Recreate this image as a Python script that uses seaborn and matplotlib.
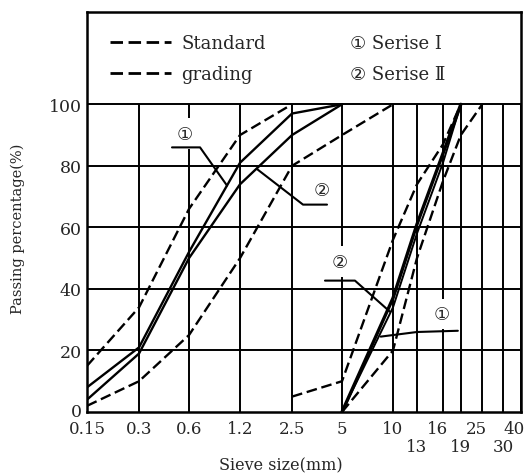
import numpy as np
import pandas as pd
import matplotlib
matplotlib.use("Agg")
import matplotlib.pyplot as plt
import matplotlib.transforms as mtransforms
from matplotlib.lines import Line2D
import seaborn as sns

# ---------------- data ----------------
sieve_sizes = [0.15, 0.3, 0.6, 1.2, 2.5, 5, 10, 13, 16, 19, 25, 30, 40]
sieve_positions = [0, 1.02, 2.0, 3.0, 4.02, 5.0, 6.0, 6.47, 6.98, 7.33, 7.75, 8.16, 8.51]
top_row_ticks = [0.15, 0.3, 0.6, 1.2, 2.5, 5, 10, 16, 25, 40]
top_row_labels = ["0.15", "0.3", "0.6", "1.2", "2.5", "5", "10", "16", "25", "40"]
second_row_ticks = [13, 19, 30]
second_row_labels = ["13", "19", "30"]
y_ticks = [0, 20, 40, 60, 80, 100]

# fine aggregate
fine_sizes = [0.15, 0.3, 0.6, 1.2, 2.5, 5]
fine_series1 = [8, 21, 52, 81, 97, 100]
fine_series2 = [4, 19, 50, 74, 90, 100]
fine_upper_sizes = [0.15, 0.3, 0.6, 1.2, 2.5]
fine_upper = [15, 34, 66, 90, 100]
fine_lower_sizes = [0.15, 0.3, 0.6, 1.2, 2.5, 5, 10]
fine_lower = [2, 10, 25, 50, 80, 90, 100]

# coarse aggregate
coarse_sizes = [5, 10, 13, 16, 19]
coarse_series1 = [0, 37, 61, 84, 100]
coarse_series2 = [0, 34, 58, 81, 100]
coarse_upper_sizes = [2.5, 5, 10, 13, 16, 19]
coarse_upper = [5, 10, 56, 74, 87, 100]
coarse_lower_sizes = [5, 10, 13, 16, 19, 25]
coarse_lower = [0, 20, 50, 75, 90, 100]

legend_labels = ["Standard", "grading", "\u2460 Serise \u2160", "\u2461 Serise \u2161"]

# ---------------- style ----------------
sns.set_style("white")
plt.rcParams["font.family"] = ["DejaVu Serif", "DejaVu Sans", "Noto Sans CJK SC"]

fig = plt.figure(figsize=(5.27, 4.77), dpi=100)
ax = fig.add_axes([87 / 527, (477 - 413) / 477, 434 / 527, 400 / 477])


def forward(x):
    return np.interp(x, sieve_sizes, sieve_positions)


def inverse(p):
    return np.interp(p, sieve_positions, sieve_sizes)


ax.set_xscale("function", functions=(forward, inverse))
ax.set_xlim(0.15, 40)
ax.set_ylim(0, 130)

# grid
ax.hlines(y_ticks[1:], 0.15, 40, color="black", lw=1.4, zorder=1)
ax.vlines(sieve_sizes, 0, 100, color="black", lw=1.4, zorder=1)

dash = (0, (4.5, 2))
lw = 1.7
curves = [
    (fine_sizes, fine_series1, "-", lw),
    (fine_sizes, fine_series2, "-", lw),
    (fine_upper_sizes, fine_upper, dash, lw),
    (fine_lower_sizes, fine_lower, dash, lw),
    (coarse_sizes, coarse_series1, "-", 2.4),
    (coarse_sizes, coarse_series2, "-", 1.4),
    (coarse_upper_sizes, coarse_upper, dash, lw),
    (coarse_lower_sizes, coarse_lower, dash, lw),
]
for xs, ys, ls, w in curves:
    sns.lineplot(x=xs, y=ys, ax=ax, color="black", linestyle=ls, linewidth=w,
                 sort=False, estimator=None, zorder=2)

# series labels with leaders
labels = [
    ("\u2460", 0.575, 90.5, [(0.498, 86), (0.73, 86), (1.047, 73.6)]),
    ("\u2461", 4.0, 72.3, [(1.62, 79), (3.05, 67.4), (4.25, 67.4)]),
    ("\u2461", 4.9, 48.9, [(4.15, 42.7), (6.27, 42.7), (9.7, 32.6)]),
    ("\u2460", 15.9, 31.9, [(8.8, 24.5), (13, 26), (18.5, 26.4)]),
]
for txt, tx, ty, pts in labels:
    ax.text(tx, ty, txt, ha="center", va="center", fontsize=13,
            family=["DejaVu Sans"], zorder=3,
            bbox=dict(boxstyle="square,pad=0.35", fc="white", ec="none"))
    px, py = zip(*pts)
    ax.plot(px, py, color="black", lw=1.5, zorder=4)

# ticks
ax.set_xticks(top_row_ticks)
ax.set_xticklabels(top_row_labels)
ax.set_xticks(second_row_ticks, minor=True)
ax.set_xticklabels(second_row_labels, minor=True)
ax.tick_params(axis="x", which="major", length=0, pad=6, labelsize=12)
ax.tick_params(axis="x", which="minor", length=0, pad=18.5, labelsize=12)
ax.set_yticks(y_ticks)
ax.tick_params(axis="y", length=0, pad=4, labelsize=12.5)

# nudge the right-most labels slightly left, as in the reference
shifts = {"16": -4, "25": -4, "40": -5}
for lbl in ax.get_xticklabels():
    s = shifts.get(lbl.get_text())
    if s:
        lbl.set_transform(lbl.get_transform() +
                          mtransforms.ScaledTranslation(s / 72, 0, fig.dpi_scale_trans))
for lbl in ax.get_yticklabels():
    if lbl.get_text() == "0":
        lbl.set_transform(lbl.get_transform() +
                          mtransforms.ScaledTranslation(0, 2 / 72, fig.dpi_scale_trans))

for s in ax.spines.values():
    s.set_linewidth(1.8)
    s.set_color("black")

ax.set_xlabel("Sieve size(mm)", fontsize=11.5)
ax.set_ylabel("Passing percentage(%)", fontsize=10.5)
ax.xaxis.set_label_coords(0.447, -0.112)
ax.yaxis.set_label_coords(-0.143, 0.46)

handles = [
    Line2D([], [], color="black", linestyle=dash, lw=2),
    Line2D([], [], color="black", linestyle=dash, lw=2),
    Line2D([], [], linestyle="none"),
    Line2D([], [], linestyle="none"),
]
ax.legend(handles, legend_labels, ncol=2, loc="upper left",
          bbox_to_anchor=(0.053, 0.945), frameon=False, fontsize=13,
          borderaxespad=0, borderpad=0, handlelength=3.4, handletextpad=0.55,
          columnspacing=0.7, labelspacing=0.72)

fig.savefig("out.png", dpi=100)
